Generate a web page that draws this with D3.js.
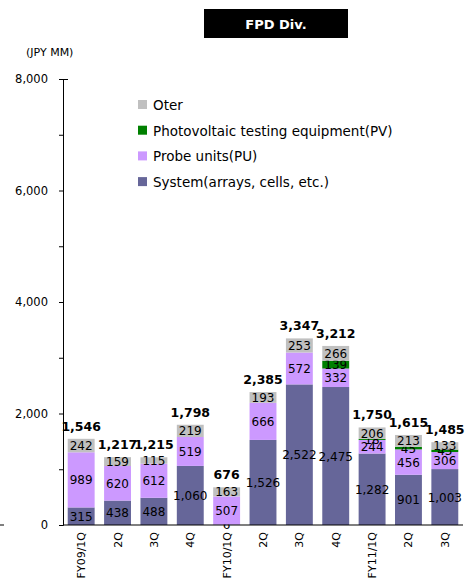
<!DOCTYPE html>
<html>
<head>
<meta charset="utf-8">
<style>
  body { margin: 0; background: #fff; }
  text { font-family: "DejaVu Sans", Verdana, sans-serif; }
</style>
</head>
<body>
<svg id="chart" width="468" height="585"></svg>
<script src="https://d3js.org/d3.v7.min.js"></script>
<script>
  const quarters = ["FY09/1Q", "2Q", "3Q", "4Q", "FY10/1Q", "2Q ", "3Q ", "4Q ", "FY11/1Q", "2Q  ", "3Q  "];
  const system = [315, 438, 488, 1060, 6, 1526, 2522, 2475, 1282, 901, 1003];
  const probe = [989, 620, 612, 519, 507, 666, 572, 332, 244, 456, 306];
  const pv = [0, 0, 0, 0, 0, 0, 0, 139, 18, 45, 43];
  const other = [242, 159, 115, 219, 163, 193, 253, 266, 206, 213, 133];
  const totals = [1546, 1217, 1215, 1798, 676, 2385, 3347, 3212, 1750, 1615, 1485];
  const yTicks = [0, 2000, 4000, 6000, 8000];

  const series = [
    { name: "System(arrays, cells, etc.)", values: system, color: "#666699" },
    { name: "Probe units(PU)", values: probe, color: "#cc99ff" },
    { name: "Photovoltaic testing equipment(PV)", values: pv, color: "#008000" },
    { name: "Oter", values: other, color: "#c0c0c0" }
  ];

  const svg = d3.select("#chart");
  const fmt = d3.format(",");

  const x = d3.scaleBand().domain(quarters).range([63, 463]).paddingInner(0.26).paddingOuter(0.13);
  const y = d3.scaleLinear().domain([0, 8000]).range([525, 79]);

  // title box
  svg.append("rect").attr("x", 204).attr("y", 9).attr("width", 144).attr("height", 29).attr("fill", "#000");
  svg.append("text").attr("x", 276).attr("y", 28.5).attr("text-anchor", "middle")
    .attr("fill", "#fff").attr("font-size", 13).attr("font-weight", "bold").text("FPD Div.");

  svg.append("text").attr("x", 26).attr("y", 56).attr("font-size", 11).text("(JPY MM)");

  // stacked bars
  const table = quarters.map((q, i) => {
    const row = { q };
    series.forEach(s => row[s.name] = s.values[i]);
    return row;
  });
  const stacked = d3.stack().keys(series.map(s => s.name))(table);

  const layer = svg.append("g").selectAll("g")
    .data(stacked)
    .join("g")
    .attr("fill", (d, i) => series[i].color);

  layer.selectAll("rect")
    .data(d => d)
    .join("rect")
    .attr("x", d => x(d.data.q))
    .attr("y", d => y(d[1]))
    .attr("width", x.bandwidth())
    .attr("height", d => y(d[0]) - y(d[1]));

  layer.selectAll("text")
    .data(d => d.filter(v => v[1] - v[0] > 0))
    .join("text")
    .attr("x", d => x(d.data.q) + x.bandwidth() / 2)
    .attr("y", d => (y(d[0]) + y(d[1])) / 2 + 4.5)
    .attr("text-anchor", "middle")
    .attr("font-size", 12)
    .attr("fill", "#000")
    .text(d => fmt(d[1] - d[0]));

  svg.append("g").selectAll("text")
    .data(totals)
    .join("text")
    .attr("x", (d, i) => x(quarters[i]) + x.bandwidth() / 2)
    .attr("y", d => y(d) - 8)
    .attr("text-anchor", "middle")
    .attr("font-size", 12.5)
    .attr("font-weight", "bold")
    .text(d => fmt(d));

  // y axis
  const yAxis = svg.append("g")
    .attr("transform", "translate(63,0)")
    .call(d3.axisLeft(y).tickValues(d3.range(0, 8001, 1000)).tickSize(4).tickFormat(""));
  yAxis.select(".domain").attr("stroke", "#000");
  yAxis.selectAll(".tick").filter(d => d === 8000).select("line").attr("x2", 5);

  svg.append("g").selectAll("text")
    .data(yTicks)
    .join("text")
    .attr("x", 48)
    .attr("y", d => y(d) + 4)
    .attr("text-anchor", "end")
    .attr("font-size", 11.5)
    .text(d => fmt(d));

  // x axis
  svg.append("line").attr("x1", 63).attr("x2", 463).attr("y1", y(0)).attr("y2", y(0))
    .attr("stroke", "#000").attr("stroke-width", 1.2);
  svg.append("line").attr("x1", 0).attr("x2", 4).attr("y1", y(0)).attr("y2", y(0)).attr("stroke", "#000");

  svg.append("g").selectAll("text")
    .data(quarters)
    .join("text")
    .attr("transform", d => `translate(${x(d) + x.bandwidth() / 2 + 4},532) rotate(-90)`)
    .attr("text-anchor", "end")
    .attr("font-size", 11)
    .text(d => d.trim());

  // legend
  const legend = svg.append("g").selectAll("g")
    .data(series.slice().reverse())
    .join("g")
    .attr("transform", (d, i) => `translate(138,${100 + i * 25.7})`);
  legend.append("rect").attr("width", 9).attr("height", 9).attr("fill", d => d.color);
  legend.append("text").attr("x", 15).attr("y", 10).attr("font-size", 13.5).text(d => d.name);
</script>
</body>
</html>
